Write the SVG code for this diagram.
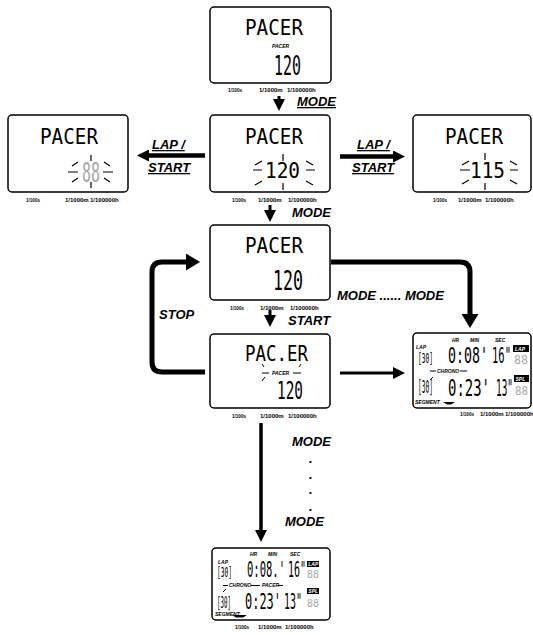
<svg xmlns="http://www.w3.org/2000/svg" width="533" height="635" viewBox="0 0 533 635">
<defs>
<style>
.box{fill:#fff;stroke:#000;stroke-width:1.5}
.lcd{font-family:"DejaVu Sans Mono","Liberation Mono",monospace;fill:#000}
.gray{fill:#a8a8a8}
.res{font-family:"Liberation Sans",Arial,sans-serif;font-weight:bold;font-size:6px;fill:#000}
.key{font-family:"Liberation Sans",Arial,sans-serif;font-weight:bold;font-style:italic;font-size:13px;fill:#000}
.ul{text-decoration:underline}
.tiny{font-family:"Liberation Sans",Arial,sans-serif;font-weight:bold;font-style:italic;font-size:5px;fill:#000}
.inv{font-family:"Liberation Sans",Arial,sans-serif;font-weight:bold;font-style:italic;font-size:5px;fill:#fff}
.ray{stroke:#000;stroke-width:1.2;fill:none}
.seg{stroke:#000;stroke-width:1;fill:none}
.conn{fill:none;stroke:#000}
</style>
<marker id="ah" viewBox="0 0 12 12" refX="1" refY="6" markerWidth="12" markerHeight="12" markerUnits="userSpaceOnUse" orient="auto"><path d="M0,0L12,6L0,12z"/></marker>
<marker id="ahL" viewBox="0 0 14 17" refX="1" refY="8.5" markerWidth="14" markerHeight="17" markerUnits="userSpaceOnUse" orient="auto"><path d="M0,0L14,8.5L0,17z"/></marker>
</defs>

<g id="connectors">
<line class="conn" x1="279" y1="96" x2="279" y2="100" stroke-width="3" marker-end="url(#ah)"/>
<line class="conn" x1="270" y1="205" x2="270" y2="211" stroke-width="3" marker-end="url(#ah)"/>
<line class="conn" x1="270" y1="310" x2="270" y2="316" stroke-width="3" marker-end="url(#ah)"/>
<line class="conn" x1="205" y1="155.5" x2="148" y2="155.5" stroke-width="4.5" marker-end="url(#ah)"/>
<line class="conn" x1="340" y1="156.5" x2="394" y2="156.5" stroke-width="4.5" marker-end="url(#ah)"/>
<path class="conn" d="M205,372H162Q152,372 152,362V272Q152,262 162,262H187" stroke-width="5" marker-end="url(#ahL)"/>
<path class="conn" d="M331,262H460Q470,262 470,272V315" stroke-width="5" marker-end="url(#ahL)"/>
<line class="conn" x1="340" y1="373" x2="394" y2="373" stroke-width="3" marker-end="url(#ah)"/>
<line class="conn" x1="261" y1="423" x2="261" y2="531" stroke-width="3.5" marker-end="url(#ah)"/>
<text class="key ul" x="297" y="106">MODE</text>
<text class="key" x="292" y="217">MODE</text>
<text class="key" x="288" y="325">START</text>
<text class="key ul" x="152" y="149">LAP /</text>
<text class="key ul" x="148" y="172">START</text>
<text class="key ul" x="357" y="149">LAP /</text>
<text class="key ul" x="352" y="172">START</text>
<text class="key" x="159" y="319">STOP</text>
<text class="key" x="337" y="300">MODE ...... MODE</text>
<text class="key" x="292" y="446">MODE</text>
<text class="key" x="309" y="463">.</text>
<text class="key" x="309" y="479">.</text>
<text class="key" x="309" y="494">.</text>
<text class="key" x="309" y="511">.</text>
<text class="key" x="285" y="526">MODE</text>
</g>

<g id="n1-pacer">
<rect class="box" x="210" y="7" width="121" height="76" rx="4"/>
<text class="lcd" font-size="22" transform="translate(245,35) scale(0.876,1)">PACER</text>
<text class="tiny" x="272" y="48" font-size="3.2">PACER</text>
<text class="lcd" font-size="26" transform="translate(274,75) scale(0.575,1)">120</text>
<text class="res" x="228" y="92" textLength="14" lengthAdjust="spacingAndGlyphs">1/100s</text>
<text class="res" x="259" y="92">1/1000m</text>
<text class="res" x="287" y="92">1/100000h</text>
</g>

<g id="n2-set">
<rect class="box" x="210" y="115" width="120" height="77" rx="4"/>
<text class="lcd" font-size="22" transform="translate(245,144) scale(0.876,1)">PACER</text>
<text class="lcd" font-size="22" transform="translate(265,178) scale(0.881,1)">120</text>
<path class="ray" d="M253,170H262M306,170H315M283,154V161M283,183V190M255,165L262,161M306,161L313,165M255,185L262,181M306,181L313,185"/>
<text class="res" x="232" y="202" textLength="14" lengthAdjust="spacingAndGlyphs">1/100s</text>
<text class="res" x="258" y="202">1/1000m</text>
<text class="res" x="288" y="202">1/100000h</text>
</g>

<g id="n3-blank">
<rect class="box" x="8" y="115" width="120" height="77" rx="4"/>
<text class="lcd" font-size="22" transform="translate(40,144) scale(0.876,1)">PACER</text>
<text class="lcd gray" font-size="27" transform="translate(82,182) scale(0.554,1)">88</text>
<path class="ray" d="M68,172H78M103,172H113M91,155V161M91,182V188M72,166L78,162M104,162L110,166M72,182L78,178M104,178L110,182"/>
<text class="res" x="26" y="202" textLength="14" lengthAdjust="spacingAndGlyphs">1/100s</text>
<text class="res" x="65" y="202">1/1000m</text>
<text class="res" x="90" y="202">1/100000h</text>
</g>

<g id="n4-115">
<rect class="box" x="413" y="115" width="118" height="77" rx="4"/>
<text class="lcd" font-size="22" transform="translate(445,144) scale(0.876,1)">PACER</text>
<text class="lcd" font-size="22" transform="translate(470,178) scale(0.881,1)">115</text>
<path class="ray" d="M460,170H470M510,170H518M485,153V160M485,183V190M462,165L469,161M510,161L517,165M462,184L469,180M510,180L517,184"/>
<text class="res" x="433" y="202" textLength="14" lengthAdjust="spacingAndGlyphs">1/100s</text>
<text class="res" x="458" y="202">1/1000m</text>
<text class="res" x="485" y="202">1/100000h</text>
</g>

<g id="n5-ready">
<rect class="box" x="210" y="225" width="120" height="75" rx="4"/>
<text class="lcd" font-size="22" transform="translate(245,253) scale(0.876,1)">PACER</text>
<text class="lcd" font-size="26" transform="translate(273,290) scale(0.639,1)">120</text>
<text class="res" x="230" y="310" textLength="14" lengthAdjust="spacingAndGlyphs">1/100s</text>
<text class="res" x="260" y="310">1/1000m</text>
<text class="res" x="290" y="310">1/100000h</text>
</g>

<g id="n6-running">
<rect class="box" x="210" y="334" width="120" height="74" rx="4"/>
<text class="lcd" font-size="22" transform="translate(245,361) scale(0.793,1)">PAC.ER</text>
<path class="seg" d="M262,373H269M293,373H301M262,364L264,367M301,364L299,367M262,381L265,377"/>
<text class="tiny" x="272" y="375" font-size="4.3">PACER</text>
<text class="lcd" font-size="24" transform="translate(277,399) scale(0.6,1)">120</text>
<text class="res" x="232" y="418" textLength="14" lengthAdjust="spacingAndGlyphs">1/100s</text>
<text class="res" x="260" y="418">1/1000m</text>
<text class="res" x="288" y="418">1/100000h</text>
</g>

<g id="n7-chrono" transform="translate(413,333)">
<rect class="box" x="0" y="0" width="118" height="75" rx="4"/>
<text class="tiny" x="39" y="9" font-size="5.5">HR</text>
<text class="tiny" x="57" y="9" font-size="5.5">MIN</text>
<text class="tiny" x="82" y="9" font-size="5.5">SEC</text>
<text class="tiny" x="3" y="16" font-size="4.5">LAP</text>
<text class="lcd" font-size="14" transform="translate(5,30) scale(0.445,1)">[30]</text>
<text class="lcd" font-size="22" transform="translate(35,30) scale(0.604,1)">0:08'</text>
<text class="lcd" font-size="22" transform="translate(79,30) scale(0.478,1)">16"</text>
<rect x="100" y="12" width="16" height="7" fill="#000"/>
<text class="inv" x="102" y="17.5" font-size="4.8">LAP</text>
<text class="lcd gray" font-size="12" transform="translate(101,31) scale(0.97,1)">88</text>
<path class="seg" d="M17,38H23M47,38H54M17,47L20,44"/>
<text class="tiny" x="24" y="39.6">CHRONO</text>
<text class="lcd" font-size="17" transform="translate(5,60) scale(0.367,1)">[30]</text>
<text class="lcd" font-size="23" transform="translate(35,62.5) scale(0.607,1)">0:23'</text>
<text class="lcd" font-size="23" transform="translate(83,62.5) scale(0.41,1)">13"</text>
<rect x="101" y="42" width="15" height="7" fill="#000"/>
<text class="inv" x="102.5" y="47.5" font-size="4.8">SPL</text>
<text class="lcd gray" font-size="12" transform="translate(102,62) scale(0.9,1)">88</text>
<text class="tiny" x="2" y="71" font-size="4.2">SEGMENT</text>
<path d="M30,69H42L38,71.5H34z" fill="#000"/>
<text class="res" x="47" y="83" textLength="14" lengthAdjust="spacingAndGlyphs">1/100s</text>
<text class="res" x="67" y="83">1/1000m</text>
<text class="res" x="92" y="83">1/100000h</text>
</g>

<g id="n8-chrono-pacer" transform="translate(212,548)">
<rect class="box" x="0" y="0" width="118" height="72" rx="4"/>
<text class="tiny" x="38" y="8" font-size="5.5">HR</text>
<text class="tiny" x="56" y="8" font-size="5.5">MIN</text>
<text class="tiny" x="78" y="8" font-size="5.5">SEC</text>
<text class="tiny" x="6" y="16" font-size="4.5">LAP</text>
<text class="lcd" font-size="14" transform="translate(5,29) scale(0.445,1)">[30]</text>
<text class="lcd" font-size="21" transform="translate(35,29) scale(0.501,1)">0:08.'</text>
<text class="lcd" font-size="21" transform="translate(76,29) scale(0.475,1)">16"</text>
<rect x="95" y="13" width="12" height="6" fill="#000"/>
<text class="inv" x="96.3" y="17.7" font-size="4.3">LAP</text>
<text class="lcd gray" font-size="10" transform="translate(95,30)">88</text>
<path class="seg" d="M11,37.5H16M39,37.5H48M66,37.5H71M11,44L14,41"/>
<text class="tiny" x="17" y="39" font-size="4.6">CHRONO</text>
<text class="tiny" x="50" y="39" font-size="4.6">PACER</text>
<text class="lcd" font-size="16" transform="translate(5,60) scale(0.363,1)">[30]</text>
<text class="lcd" font-size="21" transform="translate(33,60.5) scale(0.57,1)">0:23'</text>
<text class="lcd" font-size="21" transform="translate(72,60.5) scale(0.475,1)">13"</text>
<rect x="95" y="40" width="12" height="6" fill="#000"/>
<text class="inv" x="96.3" y="44.7" font-size="4.3">SPL</text>
<text class="lcd gray" font-size="10" transform="translate(95,59)">88</text>
<text class="tiny" x="3" y="68" font-size="3.3">SEGMENT</text>
<path d="M20,67H35L31,69.5H24z" fill="#000"/>
<text class="res" x="23" y="81" textLength="14" lengthAdjust="spacingAndGlyphs">1/100s</text>
<text class="res" x="46" y="81">1/1000m</text>
<text class="res" x="73" y="81">1/100000h</text>
</g>
</svg>
